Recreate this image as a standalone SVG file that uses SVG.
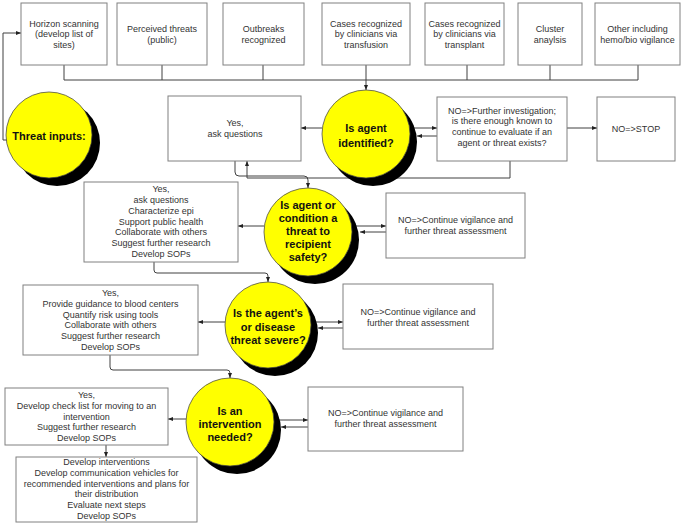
<svg xmlns="http://www.w3.org/2000/svg" width="683" height="524" viewBox="0 0 683 524">
<style>
.box{fill:#fff;stroke:#808080;stroke-width:1}
.t{font-family:"Liberation Sans",Arial,sans-serif;font-size:9px;fill:#333;text-anchor:middle}
.q{font-family:"Liberation Sans",Arial,sans-serif;font-size:11px;font-weight:bold;fill:#111;text-anchor:middle}
.c{fill:#ffff00;stroke:#444;stroke-width:0.75}
.sh{fill:#000}
.ln{fill:none;stroke:#404040;stroke-width:1}
.ar{fill:none;stroke:#404040;stroke-width:1;marker-end:url(#ah)}
</style>
<defs>
<marker id="ah" viewBox="0 0 10 10" refX="10" refY="5" markerWidth="5" markerHeight="5" markerUnits="userSpaceOnUse" orient="auto">
<path d="M0,1 L10,5 L0,9 z" fill="#222"/>
</marker>
</defs>
<rect width="683" height="524" fill="#fff"/>
<g id="connectors">
<path class="ar" d="M7,140 H3 V33 H21"/>
<path class="ln" d="M64,65 V80 M162,65 V80 M263,65 V80 M467,65 V80 M550,65 V80 M638,65 V80 M64,80 H638"/>
<path class="ar" d="M366,65 V90"/>
<path class="ar" d="M322,128 H301"/>
<path class="ar" d="M410,128 H437"/>
<path class="ar" d="M437,136 H417"/>
<path class="ar" d="M567,128 H597"/>
<path class="ar" d="M510,161 V178 H247 V161"/>
<path class="ar" d="M235,161 V172 Q235,176 239,176 H304 Q308,176 308,180 V188"/>
<path class="ar" d="M264,226 H238"/>
<path class="ar" d="M352,226 H386"/>
<path class="ar" d="M386,232 H360"/>
<path class="ar" d="M154,262 V270 Q154,273 157,273 H265 Q268,273 268,276 V282"/>
<path class="ar" d="M225,322 H198"/>
<path class="ar" d="M311,322 H343"/>
<path class="ar" d="M343,328 H318"/>
<path class="ar" d="M110,355 V367 Q110,370 113,370 H227 Q230,370 230,373 V378"/>
<path class="ar" d="M186,419 H168"/>
<path class="ar" d="M274,420 H308"/>
<path class="ar" d="M308,427 H281"/>
<path class="ar" d="M106,445 V457"/>
</g>
<g id="n-horizon"><rect class="box" x="21" y="3" width="86" height="62"/><text class="t" x="64" y="26.5">Horizon scanning</text><text class="t" x="64" y="37.2">(develop list of</text><text class="t" x="64" y="47.9">sites)</text></g>
<g id="n-perceived"><rect class="box" x="117" y="3" width="90" height="62"/><text class="t" x="162" y="31.9">Perceived threats</text><text class="t" x="162" y="42.6">(public)</text></g>
<g id="n-outbreaks"><rect class="box" x="223" y="3" width="81" height="62"/><text class="t" x="263.5" y="31.9">Outbreaks</text><text class="t" x="263.5" y="42.6">recognized</text></g>
<g id="n-transfusion"><rect class="box" x="322" y="3" width="88" height="62"/><text class="t" x="366" y="26.5">Cases recognized</text><text class="t" x="366" y="37.2">by clinicians via</text><text class="t" x="366" y="47.9">transfusion</text></g>
<g id="n-transplant"><rect class="box" x="425" y="3" width="79" height="62"/><text class="t" x="464.5" y="26.5">Cases recognized</text><text class="t" x="464.5" y="37.2">by clinicians via</text><text class="t" x="464.5" y="47.9">transplant</text></g>
<g id="n-cluster"><rect class="box" x="518" y="3" width="64" height="62"/><text class="t" x="550" y="31.9">Cluster</text><text class="t" x="550" y="42.6">anaylsis</text></g>
<g id="n-other"><rect class="box" x="595" y="3" width="85" height="62"/><text class="t" x="637.5" y="31.9">Other including</text><text class="t" x="637.5" y="42.6">hemo/bio vigilance</text></g>
<g id="n-threat-inputs"><circle class="sh" cx="57" cy="143" r="43"/><circle class="c" cx="49" cy="135" r="43"/><text class="q" x="49" y="140">Threat inputs:</text></g>
<g id="n-yes1"><rect class="box" x="168" y="96" width="133" height="65"/><text class="t" x="235" y="126">Yes,</text><text class="t" x="235" y="137">ask questions</text></g>
<g id="n-q1"><circle class="sh" cx="373" cy="142" r="44"/><circle class="c" cx="366" cy="134" r="44"/><text class="q" x="366" y="132">Is agent</text><text class="q" x="366" y="147">identified?</text></g>
<g id="n-no1"><rect class="box" x="437" y="97" width="130" height="64"/><text class="t" x="502" y="113.5">NO=&gt;Further investigation;</text><text class="t" x="502" y="124.2">is there enough known to</text><text class="t" x="502" y="134.9">continue to evaluate if an</text><text class="t" x="502" y="145.6">agent or threat exists?</text></g>
<g id="n-stop"><rect class="box" x="597" y="97" width="78" height="64"/><text class="t" x="636" y="131.5">NO=&gt;STOP</text></g>
<g id="n-yes2"><rect class="box" x="84" y="182" width="154" height="80"/><text class="t" x="161" y="192.2">Yes,</text><text class="t" x="161" y="203">ask questions</text><text class="t" x="161" y="213.8">Characterize epi</text><text class="t" x="161" y="224.6">Support public health</text><text class="t" x="161" y="235.4">Collaborate with others</text><text class="t" x="161" y="246.2">Suggest further research</text><text class="t" x="161" y="257">Develop SOPs</text></g>
<g id="n-q2"><circle class="sh" cx="315" cy="240" r="44"/><circle class="c" cx="308" cy="232" r="44"/><text class="q" x="308" y="209">Is agent or</text><text class="q" x="308" y="222">condition a</text><text class="q" x="308" y="235">threat to</text><text class="q" x="308" y="248">recipient</text><text class="q" x="308" y="261">safety?</text></g>
<g id="n-no2"><rect class="box" x="386" y="193" width="139" height="65"/><text class="t" x="455.5" y="223.2">NO=&gt;Continue vigilance and</text><text class="t" x="455.5" y="234.2">further threat assessment</text></g>
<g id="n-yes3"><rect class="box" x="23" y="285" width="175" height="70"/><text class="t" x="110.5" y="296.2">Yes,</text><text class="t" x="110.5" y="306.9">Provide guidance to blood centers</text><text class="t" x="110.5" y="317.6">Quantify risk using tools</text><text class="t" x="110.5" y="328.3">Collaborate with others</text><text class="t" x="110.5" y="339">Suggest further research</text><text class="t" x="110.5" y="349.7">Develop SOPs</text></g>
<g id="n-q3"><circle class="sh" cx="275" cy="333" r="43"/><circle class="c" cx="268" cy="325" r="43"/><text class="q" x="268" y="317">Is the agent’s</text><text class="q" x="268" y="331">or disease</text><text class="q" x="268" y="344">threat severe?</text></g>
<g id="n-no3"><rect class="box" x="343" y="284" width="150" height="65"/><text class="t" x="418" y="315.2">NO=&gt;Continue vigilance and</text><text class="t" x="418" y="326.2">further threat assessment</text></g>
<g id="n-yes4"><rect class="box" x="5" y="388" width="163" height="57"/><text class="t" x="86.5" y="398.2">Yes,</text><text class="t" x="86.5" y="408.9">Develop check list for moving to an</text><text class="t" x="86.5" y="419.6">intervention</text><text class="t" x="86.5" y="430.3">Suggest further research</text><text class="t" x="86.5" y="441">Develop SOPs</text></g>
<g id="n-q4"><circle class="sh" cx="237" cy="430" r="44"/><circle class="c" cx="230" cy="422" r="44"/><text class="q" x="230" y="415">Is an</text><text class="q" x="230" y="428">intervention</text><text class="q" x="230" y="441">needed?</text></g>
<g id="n-no4"><rect class="box" x="308" y="387" width="155" height="64"/><text class="t" x="385.5" y="416.2">NO=&gt;Continue vigilance and</text><text class="t" x="385.5" y="427.2">further threat assessment</text></g>
<g id="n-develop"><rect class="box" x="16" y="457" width="181" height="65"/><text class="t" x="106.5" y="465.2">Develop interventions</text><text class="t" x="106.5" y="475.9">Develop communication vehicles for</text><text class="t" x="106.5" y="486.6">recommended interventions and plans for</text><text class="t" x="106.5" y="497.3">their distribution</text><text class="t" x="106.5" y="508">Evaluate next steps</text><text class="t" x="106.5" y="518.7">Develop SOPs</text></g>
</svg>
